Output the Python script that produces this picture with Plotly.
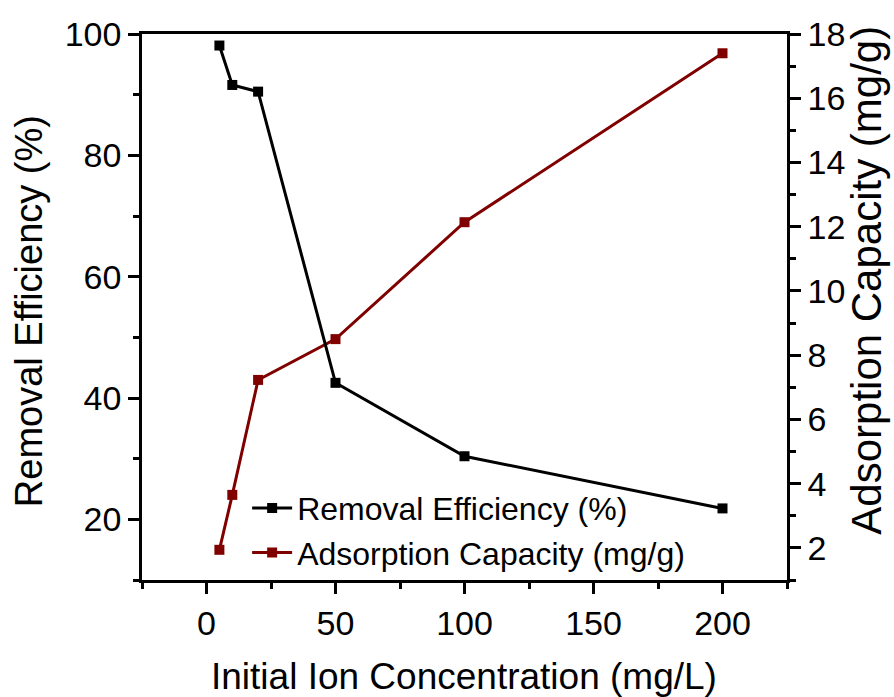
import plotly.graph_objects as go

# Initial ion concentration (mg/L)
concentration = [5, 10, 20, 50, 100, 200]
# Removal efficiency (%)
removal_efficiency = [98.1, 91.6, 90.5, 42.5, 30.4, 21.8]
# Adsorption capacity (mg/g)
adsorption_capacity = [1.94, 3.65, 7.23, 8.5, 12.14, 17.4]

removal_name = "Removal Efficiency (%)"
capacity_name = "Adsorption Capacity (mg/g)"
x_title = "Initial Ion Concentration (mg/L)"

FONT = "Liberation Sans, Arial, sans-serif"
BLACK = "#000000"
DARK_RED = "#800000"

fig = go.Figure()

fig.add_trace(go.Scatter(
    x=concentration, y=removal_efficiency, name=removal_name,
    mode="lines+markers", yaxis="y",
    line=dict(color=BLACK, width=3),
    marker=dict(symbol="square", size=10, color=BLACK),
))
fig.add_trace(go.Scatter(
    x=concentration, y=adsorption_capacity, name=capacity_name,
    mode="lines+markers", yaxis="y2",
    line=dict(color=DARK_RED, width=3),
    marker=dict(symbol="square", size=10, color=DARK_RED),
))

axis_common = dict(
    showline=True, linecolor=BLACK, linewidth=2.5,
    ticks="outside", ticklen=11, tickwidth=2.5, tickcolor=BLACK,
    showgrid=False, zeroline=False, automargin=False,
    tickfont=dict(family=FONT, size=34, color=BLACK),
)
minor_common = dict(ticks="outside", ticklen=6, tickwidth=2.5, tickcolor=BLACK, tick0=0)

fig.update_layout(
    width=894, height=697,
    margin=dict(l=142, r=107, t=34, b=117, autoexpand=False),
    paper_bgcolor="white", plot_bgcolor="white",
    font=dict(family=FONT, color=BLACK),
    xaxis=dict(
        **axis_common,
        range=[-25, 225], tickmode="linear", tick0=0, dtick=50,
        mirror=True,
        minor=dict(**minor_common, dtick=25),
    ),
    yaxis=dict(
        **axis_common,
        range=[10, 100], tickmode="linear", tick0=0, dtick=20,
        side="left", overlaying="y2",
        minor=dict(**minor_common, dtick=10),
    ),
    yaxis2=dict(
        **axis_common,
        range=[1, 18], tickmode="linear", tick0=0, dtick=2,
        side="right", anchor="x",
        minor=dict(**minor_common, dtick=1),
    ),
    legend=dict(
        x=0.163, y=0.182, xanchor="left", yanchor="top",
        bgcolor="rgba(0,0,0,0)", borderwidth=0,
        font=dict(family=FONT, size=32, color=BLACK),
        itemwidth=40, traceorder="normal",
    ),
    showlegend=True,
)

# Axis titles as free text so their positions stay fixed beside the frame
title_specs = [
    (x_title, 0, 0.4988, -0.177, 37),
    (removal_name, -90, -0.174, 0.492, 38),
    (capacity_name, -90, 1.124, 0.55, 42),
]
for text, angle, x, y, size in title_specs:
    fig.add_annotation(
        text=text, textangle=angle,
        xref="paper", yref="paper", x=x, y=y,
        xanchor="center", yanchor="middle", showarrow=False,
        font=dict(family=FONT, size=size, color=BLACK),
    )

fig.write_html("out.html")
